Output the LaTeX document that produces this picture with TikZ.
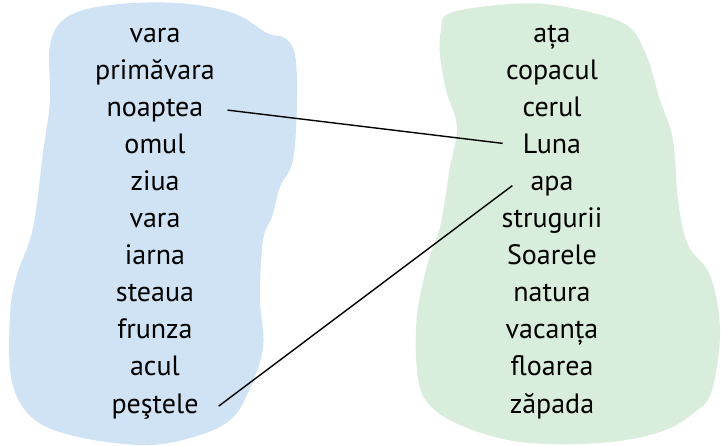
\documentclass[tikz,border=0pt]{standalone}
\usepackage{fontspec}
\setmainfont{PT Sans}
\definecolor{lfblue}{HTML}{CFE3F4}
\definecolor{lfgreen}{HTML}{D9EDDC}
\usetikzlibrary{positioning}
\tikzset{
  word/.style={font=\fontsize{28}{30}\selectfont, text=black, anchor=base, inner ysep=0pt, inner xsep=12pt},
  link/.style={draw=black, line width=1.4pt}
}

\begin{document}
\begin{tikzpicture}[x=1pt, y=-1pt]
    \useasboundingbox (0,0) rectangle (721,445);
    % blobs
    \fill[lfblue] plot[smooth cycle, tension=0.6] coordinates {
      (67,17) (110,5) (177,3) (233,13) (267,33) (285,38) (295,55) (297,100)
      (293,160) (280,187) (272,217) (263,240) (260,298) (263,348) (247,395)
      (230,420) (200,435) (150,445) (83,438) (35,420) (12,382) (10,315)
      (17,275) (33,228) (43,153) (50,100) (50,45)};
    \fill[lfgreen] plot[smooth cycle, tension=0.6] coordinates {
      (450,13) (510,4) (560,6) (623,23) (645,52) (660,100) (673,140)
      (678,200) (688,245) (710,275) (720,330) (712,390) (695,412) (660,432)
      (600,443) (520,442) (460,425) (427,402) (417,370) (417,315) (428,262)
      (440,227) (450,167) (457,127) (446,90) (440,55) (441,30)};
    % left column
    \node[word] (vara1) at (155,42) {vara};
    \node[word] (primavara) at (155,79) {primăvara};
    \node[word] (noaptea) at (155,116) {noaptea};
    \node[word] (omul) at (155,153) {omul};
    \node[word] (ziua) at (155,190) {ziua};
    \node[word] (vara2) at (155,227) {vara};
    \node[word] (iarna) at (155,264) {iarna};
    \node[word] (steaua) at (155,301) {steaua};
    \node[word] (frunza) at (155,338) {frunza};
    \node[word] (acul) at (155,375) {acul};
    \node[word] (pestele) at (155,413) {peştele};
    % right column
    \node[word] (ata) at (552,42) {ața};
    \node[word] (copacul) at (552,79) {copacul};
    \node[word] (cerul) at (552,116) {cerul};
    \node[word] (luna) at (552,153) {Luna};
    \node[word] (apa) at (552,190) {apa};
    \node[word] (strugurii) at (552,227) {strugurii};
    \node[word] (soarele) at (552,264) {Soarele};
    \node[word] (natura) at (552,301) {natura};
    \node[word] (vacanta) at (552,338) {vacanța};
    \node[word] (floarea) at (552,375) {floarea};
    \node[word] (zapada) at (552,413) {zăpada};
    % connectors
    \draw[link] ([xshift=12pt]noaptea.east) -- ([xshift=-8pt]luna.west);
    \draw[link] ([xshift=8pt]pestele.east) -- ([xshift=-6pt]apa.west);
  \end{tikzpicture}
\end{document}
